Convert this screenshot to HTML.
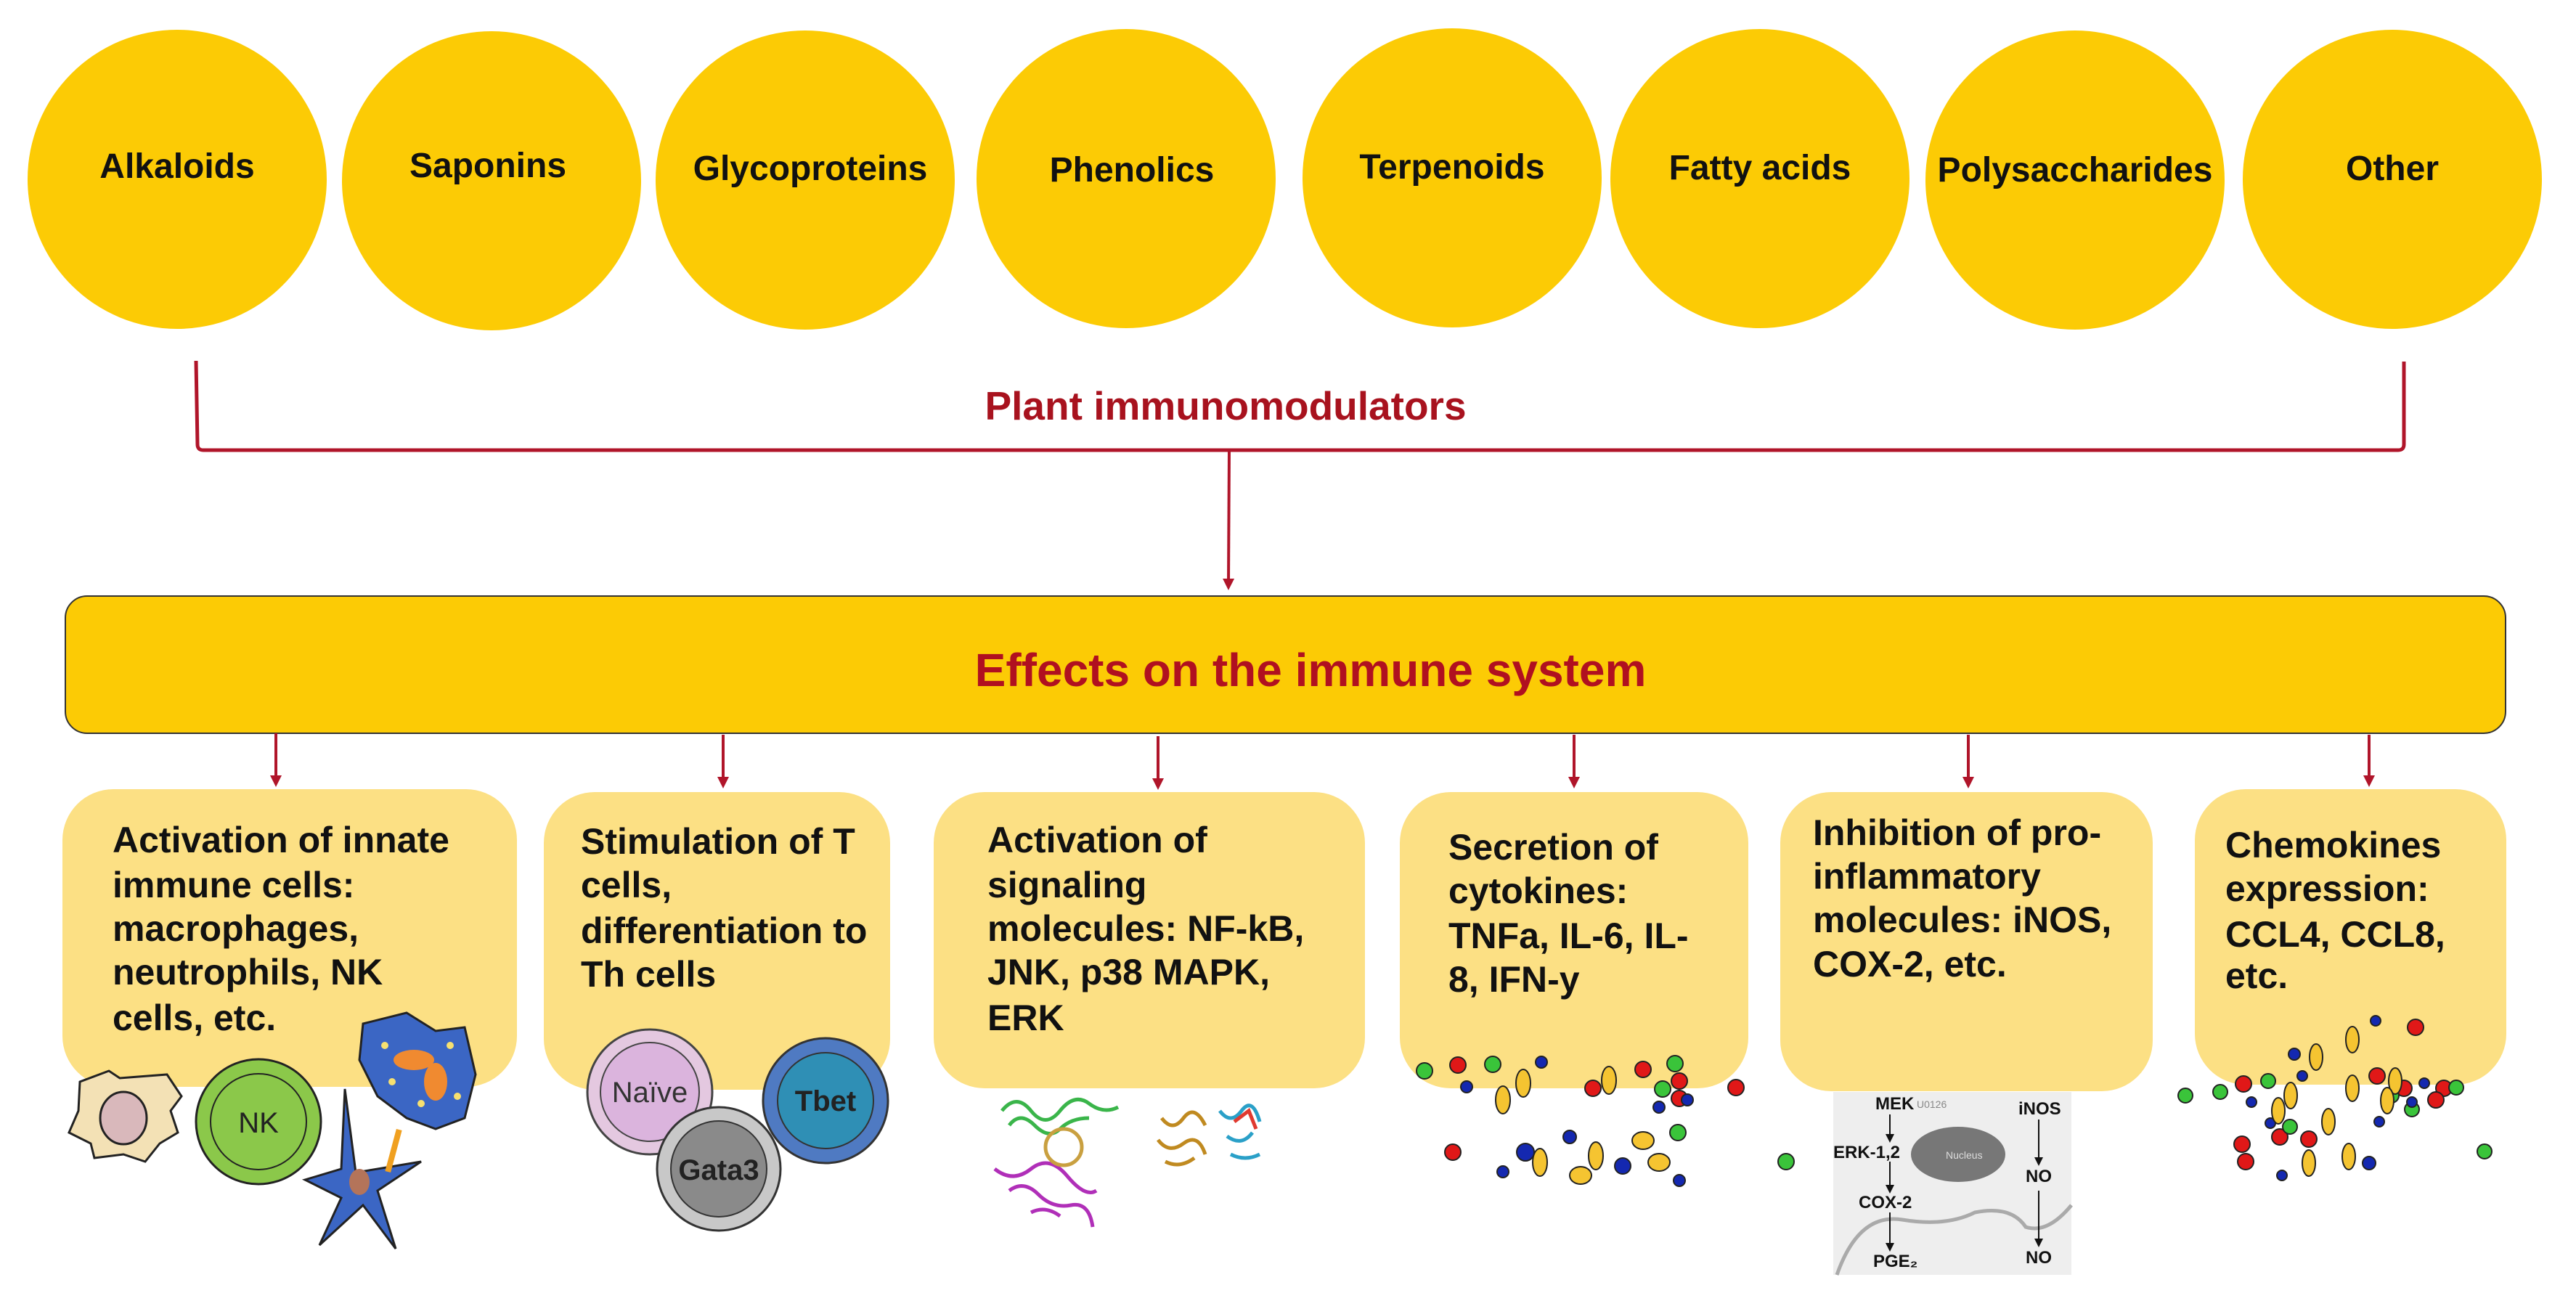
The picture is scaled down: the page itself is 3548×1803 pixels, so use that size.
<!DOCTYPE html>
<html><head><meta charset="utf-8"><style>
html,body{margin:0;padding:0;background:#fff}
svg{display:block}
text{font-family:"Liberation Sans",Arial,sans-serif;font-weight:bold}
</style></head><body>
<svg width="3548" height="1803" viewBox="0 0 3548 1803" xmlns="http://www.w3.org/2000/svg">
<defs>
<marker id="ah" markerWidth="4" markerHeight="4" refX="2" refY="2" orient="auto" markerUnits="strokeWidth">
<path d="M0,0 L4,2 L0,4 z" fill="#b0152a"/></marker>
<marker id="ah2" markerWidth="6" markerHeight="6" refX="3" refY="3" orient="auto" markerUnits="strokeWidth">
<path d="M0,0 L6,3 L0,6 z" fill="#111"/></marker>
</defs>
<!-- circles -->
<g fill="#fccb05">
<circle cx="244" cy="247" r="206"/><circle cx="677" cy="249" r="206"/>
<circle cx="1109" cy="248" r="206"/><circle cx="1551" cy="246" r="206"/>
<circle cx="2000" cy="245" r="206"/><circle cx="2424" cy="246" r="206"/>
<circle cx="2858" cy="248" r="206"/><circle cx="3295" cy="247" r="206"/>
</g>
<g font-size="48" fill="#111" text-anchor="middle">
<text x="244" y="245">Alkaloids</text>
<text x="672" y="244">Saponins</text>
<text x="1116" y="248">Glycoproteins</text>
<text x="1559" y="250">Phenolics</text>
<text x="2000" y="246">Terpenoids</text>
<text x="2424" y="247">Fatty acids</text>
<text x="2858" y="250">Polysaccharides</text>
<text x="3295" y="248">Other</text>
</g>
<!-- bracket -->
<path d="M270,497 L272,612 Q272,620 280,620 L3303,620 Q3311,620 3311,612 L3311,498" fill="none" stroke="#b0152a" stroke-width="5"/>
<text x="1688" y="578" font-size="55" fill="#a8121e" text-anchor="middle">Plant immunomodulators</text>
<line x1="1693" y1="620" x2="1692" y2="805" stroke="#b0152a" stroke-width="4" marker-end="url(#ah)"/>
<!-- big box -->
<rect x="90" y="821" width="3361" height="189" rx="30" fill="#fccb05" stroke="#333" stroke-width="2"/>
<text x="1805" y="945" font-size="64" fill="#b01020" text-anchor="middle">Effects on the immune system</text>
<!-- small arrows -->
<g stroke="#b0152a" stroke-width="4" marker-end="url(#ah)">
<line x1="380" y1="1010" x2="380" y2="1076"/><line x1="996" y1="1012" x2="996" y2="1078"/>
<line x1="1595" y1="1014" x2="1595" y2="1080"/><line x1="2168" y1="1012" x2="2168" y2="1078"/>
<line x1="2711" y1="1012" x2="2711" y2="1078"/><line x1="3263" y1="1012" x2="3263" y2="1076"/>
</g>
<!-- small boxes -->
<g fill="#fce084">
<rect x="86" y="1087" width="626" height="410" rx="70"/>
<rect x="749" y="1091" width="477" height="410" rx="70"/>
<rect x="1286" y="1091" width="594" height="408" rx="70"/>
<rect x="1928" y="1091" width="480" height="408" rx="70"/>
<rect x="2452" y="1091" width="513" height="412" rx="70"/>
<rect x="3023" y="1087" width="429" height="407" rx="70"/>
</g>
<g font-size="50" fill="#111">
<text x="155" y="1174">Activation of innate</text>
<text x="155" y="1236">immune cells:</text>
<text x="155" y="1296">macrophages,</text>
<text x="155" y="1356">neutrophils, NK</text>
<text x="155" y="1419">cells, etc.</text>
<text x="800" y="1176">Stimulation of T</text>
<text x="800" y="1236">cells,</text>
<text x="800" y="1299">differentiation to</text>
<text x="800" y="1359">Th cells</text>
<text x="1360" y="1174">Activation of</text>
<text x="1360" y="1236">signaling</text>
<text x="1360" y="1296">molecules: NF-kB,</text>
<text x="1360" y="1356">JNK, p38 MAPK,</text>
<text x="1360" y="1419">ERK</text>
<text x="1995" y="1184">Secretion of</text>
<text x="1995" y="1244">cytokines:</text>
<text x="1995" y="1306">TNFa, IL-6, IL-</text>
<text x="1995" y="1366">8, IFN-y</text>
<text x="2497" y="1164">Inhibition of pro-</text>
<text x="2497" y="1224">inflammatory</text>
<text x="2497" y="1284">molecules: iNOS,</text>
<text x="2497" y="1345">COX-2, etc.</text>
<text x="3065" y="1181">Chemokines</text>
<text x="3065" y="1241">expression:</text>
<text x="3065" y="1304">CCL4, CCL8,</text>
<text x="3065" y="1361">etc.</text>
</g>
<!-- box1 cells -->
<path d="M110,1490 L150,1475 L165,1485 L230,1480 L250,1510 L235,1530 L245,1560 L220,1575 L200,1600 L170,1590 L130,1595 L125,1575 L95,1560 L108,1530 Z" fill="#f3e1b5" stroke="#222" stroke-width="3"/>
<ellipse cx="170" cy="1540" rx="32" ry="36" fill="#d9b8bb" stroke="#222" stroke-width="3"/>
<circle cx="356" cy="1545" r="86" fill="#8bc84a" stroke="#222" stroke-width="3"/>
<circle cx="356" cy="1545" r="66" fill="none" stroke="#222" stroke-width="2"/>
<text x="356" y="1560" font-size="40" fill="#222" text-anchor="middle" style="font-weight:normal">NK</text>
<path d="M420,1625 L470,1610 L475,1500 L490,1615 L580,1600 L520,1640 L545,1720 L500,1660 L440,1715 L470,1650 Z" fill="#3b66c4" stroke="#222" stroke-width="3"/>
<ellipse cx="495" cy="1628" rx="14" ry="18" fill="#b4745a"/>
<rect x="538" y="1555" width="8" height="60" fill="#f0a020" transform="rotate(15 542 1585)"/>
<path d="M500,1410 L560,1395 L600,1420 L640,1415 L655,1480 L640,1540 L600,1555 L560,1540 L520,1510 L495,1460 Z" fill="#3b66c4" stroke="#222" stroke-width="3"/>
<ellipse cx="570" cy="1460" rx="28" ry="14" fill="#f08a30"/><ellipse cx="600" cy="1490" rx="16" ry="26" fill="#f08a30"/>
<g fill="#f6e070"><circle cx="530" cy="1440" r="5"/><circle cx="620" cy="1440" r="5"/><circle cx="540" cy="1490" r="5"/><circle cx="630" cy="1510" r="5"/><circle cx="580" cy="1520" r="5"/></g>
<!-- box2 cells -->
<circle cx="895" cy="1504" r="86" fill="#e4c8e0" stroke="#444" stroke-width="3"/>
<circle cx="895" cy="1504" r="68" fill="#dbb4dd" stroke="#444" stroke-width="2"/>
<text x="895" y="1518" font-size="40" fill="#333" text-anchor="middle" style="font-weight:normal">Naïve</text>
<circle cx="1137" cy="1516" r="86" fill="#4f7ac2" stroke="#333" stroke-width="3"/>
<circle cx="1137" cy="1516" r="66" fill="#2f8fb5" stroke="#333" stroke-width="2"/>
<text x="1137" y="1530" font-size="40" fill="#222" text-anchor="middle">Tbet</text>
<circle cx="990" cy="1610" r="85" fill="#c8c8c8" stroke="#333" stroke-width="3"/>
<circle cx="990" cy="1610" r="66" fill="#8a8a8a" stroke="#333" stroke-width="2"/>
<text x="990" y="1625" font-size="40" fill="#222" text-anchor="middle">Gata3</text>
<!-- box3 proteins -->
<g fill="none" stroke-width="5">
<path d="M1380,1530 q20,-25 40,0 t40,0 t40,-10 t40,5 M1390,1550 q15,-20 35,0 t35,5 t40,-15" stroke="#3ab54a"/>
<path d="M1370,1610 q25,20 50,0 t50,10 t40,20 M1390,1640 q20,-15 40,5 t45,15 t30,30 M1420,1670 q20,-10 40,5" stroke="#b02fb8"/>
<circle cx="1465" cy="1580" r="25" stroke="#c9a040"/>
<path d="M1600,1540 q15,20 30,0 t30,10 M1595,1570 q15,20 35,5 t30,15 M1605,1600 q20,10 40,-5" stroke="#c08a20"/>
<path d="M1680,1530 q15,20 30,0 t25,15 M1690,1565 q20,15 35,-5 M1695,1590 q20,10 40,0" stroke="#2aa0c8"/>
<path d="M1700,1545 l20,-15 l10,25" stroke="#e03a30"/>
</g>
<!-- pathway -->
<rect x="2525" y="1504" width="328" height="252" fill="#eeeeee"/>
<ellipse cx="2697" cy="1590" rx="65" ry="38" fill="#777"/>
<text x="2680" y="1596" font-size="14" fill="#ddd" style="font-weight:normal">Nucleus</text>
<path d="M2530,1756 Q2560,1670 2620,1680 Q2680,1690 2720,1670 Q2770,1660 2790,1690 Q2820,1700 2853,1660" fill="none" stroke="#aaa" stroke-width="5"/>
<g font-size="24" fill="#111">
<text x="2583" y="1528">MEK</text><text x="2640" y="1526" font-size="14" style="font-weight:normal" fill="#888">U0126</text>
<text x="2525" y="1595">ERK-1,2</text>
<text x="2560" y="1664">COX-2</text>
<text x="2580" y="1745">PGE₂</text>
<text x="2780" y="1535">iNOS</text>
<text x="2790" y="1628">NO</text>
<text x="2790" y="1740">NO</text>
</g>
<g stroke="#111" stroke-width="2" marker-end="url(#ah2)">
<line x1="2603" y1="1535" x2="2603" y2="1568"/><line x1="2603" y1="1600" x2="2603" y2="1638"/>
<line x1="2603" y1="1670" x2="2603" y2="1718"/><line x1="2808" y1="1542" x2="2808" y2="1600"/>
<line x1="2808" y1="1640" x2="2808" y2="1712"/>
</g>
<!-- dots -->
<g stroke="#222" stroke-width="2">
<g fill="#e01818">
<circle cx="2008" cy="1467" r="11"/><circle cx="2194" cy="1499" r="11"/><circle cx="2263" cy="1473" r="11"/><circle cx="2313" cy="1489" r="11"/><circle cx="2313" cy="1513" r="11"/><circle cx="2391" cy="1498" r="11"/><circle cx="2001" cy="1587" r="11"/>
<circle cx="3327" cy="1415" r="11"/><circle cx="3090" cy="1493" r="11"/><circle cx="3274" cy="1482" r="11"/><circle cx="3311" cy="1499" r="11"/><circle cx="3366" cy="1499" r="11"/><circle cx="3355" cy="1515" r="11"/><circle cx="3140" cy="1566" r="11"/><circle cx="3088" cy="1576" r="11"/><circle cx="3180" cy="1569" r="11"/><circle cx="3093" cy="1600" r="11"/>
</g>
<g fill="#3ac43a">
<circle cx="1962" cy="1475" r="11"/><circle cx="2056" cy="1466" r="11"/><circle cx="2307" cy="1465" r="11"/><circle cx="2290" cy="1500" r="11"/><circle cx="2311" cy="1560" r="11"/><circle cx="2460" cy="1600" r="11"/>
<circle cx="3010" cy="1509" r="10"/><circle cx="3058" cy="1504" r="10"/><circle cx="3124" cy="1489" r="10"/><circle cx="3383" cy="1498" r="10"/><circle cx="3294" cy="1509" r="10"/><circle cx="3322" cy="1528" r="10"/><circle cx="3154" cy="1552" r="10"/><circle cx="3422" cy="1586" r="10"/>
</g>
<g fill="#1428b0">
<circle cx="2123" cy="1463" r="8"/><circle cx="2020" cy="1497" r="8"/><circle cx="2285" cy="1525" r="8"/><circle cx="2324" cy="1515" r="8"/><circle cx="2101" cy="1587" r="12"/><circle cx="2162" cy="1566" r="9"/><circle cx="2235" cy="1606" r="11"/><circle cx="2070" cy="1614" r="8"/><circle cx="2313" cy="1626" r="8"/>
<circle cx="3272" cy="1406" r="7"/><circle cx="3160" cy="1452" r="8"/><circle cx="3171" cy="1482" r="7"/><circle cx="3339" cy="1492" r="7"/><circle cx="3322" cy="1518" r="7"/><circle cx="3101" cy="1518" r="7"/><circle cx="3127" cy="1547" r="7"/><circle cx="3277" cy="1545" r="7"/><circle cx="3263" cy="1602" r="9"/><circle cx="3143" cy="1619" r="7"/>
</g>
<g fill="#f5c431">
<ellipse cx="2098" cy="1492" rx="10" ry="19"/><ellipse cx="2070" cy="1515" rx="10" ry="19"/><ellipse cx="2216" cy="1488" rx="10" ry="19"/><ellipse cx="2121" cy="1601" rx="10" ry="19"/><ellipse cx="2198" cy="1592" rx="10" ry="19"/><ellipse cx="2177" cy="1619" rx="15" ry="12"/><ellipse cx="2263" cy="1571" rx="15" ry="12"/><ellipse cx="2285" cy="1601" rx="15" ry="12"/>
<ellipse cx="3240" cy="1432" rx="9" ry="18"/><ellipse cx="3190" cy="1456" rx="9" ry="18"/><ellipse cx="3155" cy="1509" rx="9" ry="18"/><ellipse cx="3240" cy="1499" rx="9" ry="18"/><ellipse cx="3299" cy="1489" rx="9" ry="18"/><ellipse cx="3288" cy="1516" rx="9" ry="18"/><ellipse cx="3138" cy="1530" rx="9" ry="18"/><ellipse cx="3207" cy="1545" rx="9" ry="18"/><ellipse cx="3180" cy="1602" rx="9" ry="18"/><ellipse cx="3235" cy="1593" rx="9" ry="18"/>
</g>
</g>
</svg>
</body></html>
